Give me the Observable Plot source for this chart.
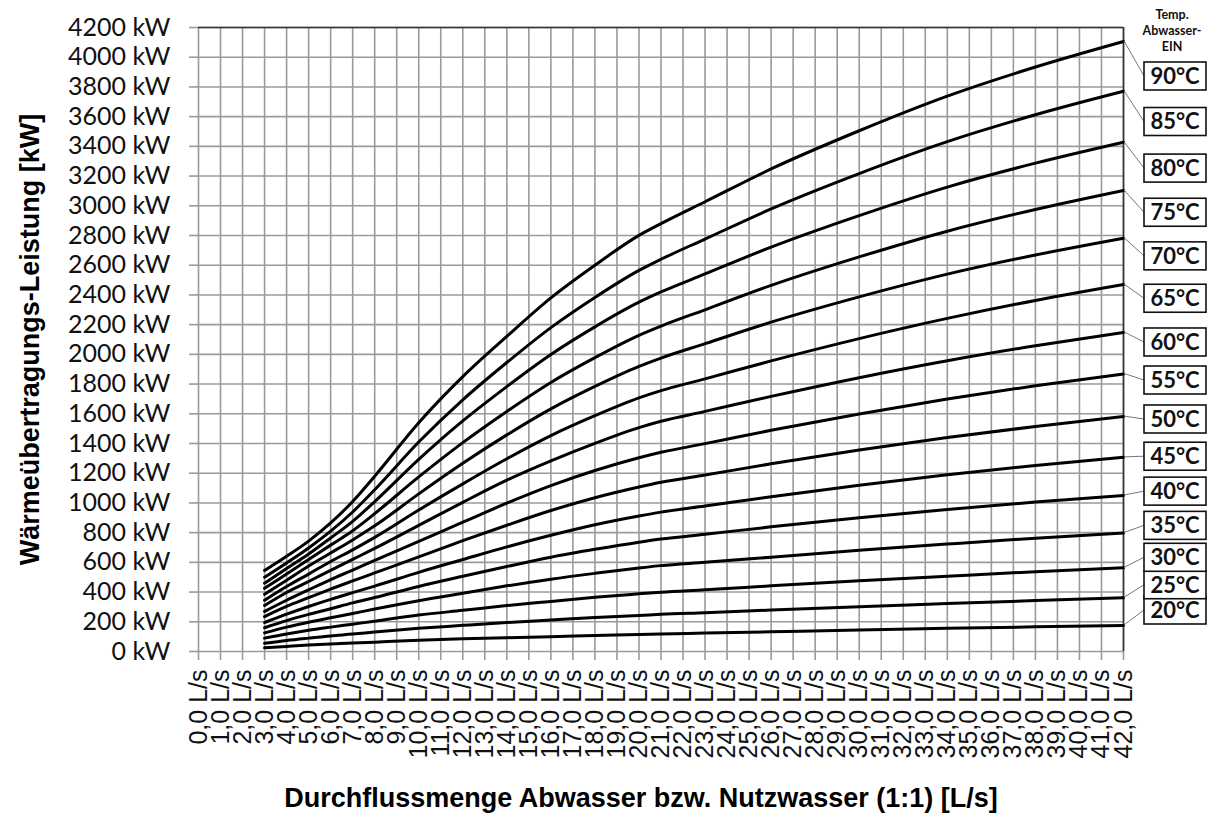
<!DOCTYPE html>
<html><head><meta charset="utf-8">
<script src="https://cdn.jsdelivr.net/npm/d3@7"></script>
<script src="https://cdn.jsdelivr.net/npm/@observablehq/plot@0.6"></script>
<style>html,body{margin:0;padding:0;background:#fff;}</style>
</head><body><div id="chart"></div>
<script>
// Flow rate [L/s] at which each curve value was read
const flows = [3,4,5,6,7,8,10,12,14,16,18,20,21,23,26,30,34,38,42];
// Inlet temperatures (series names)
const temps = ["20°C","25°C","30°C","35°C","40°C","45°C","50°C","55°C","60°C","65°C","70°C","75°C","80°C","85°C","90°C"];
// Heat transfer power [kW] per temperature
const p20 = [25,34,43,50,57,63,75,85,93,100,108,114,118,124,133,145,156,166,175];
const p25 = [55,74,90,105,117,131,156,176,195,212,229,242,250,261,279,302,323,343,361];
const p30 = [90,118,143,164,184,204,245,277,309,337,365,388,399,415,442,476,507,537,563];
const p35 = [125,164,197,227,256,286,342,392,442,487,526,562,578,600,635,681,723,763,798];
const p40 = [160,208,250,288,327,363,438,506,572,635,688,736,757,789,839,901,956,1006,1050];
const p45 = [195,251,303,351,396,440,533,619,704,782,853,912,938,979,1041,1119,1189,1252,1307];
const p50 = [235,303,362,420,475,529,637,746,850,949,1035,1107,1139,1188,1263,1356,1440,1515,1581];
const p55 = [270,345,415,484,548,613,741,870,998,1116,1218,1304,1341,1399,1489,1599,1699,1789,1868];
const p60 = [310,397,471,546,620,694,849,1004,1153,1283,1401,1507,1550,1616,1717,1843,1957,2058,2148];
const p65 = [345,437,521,606,684,768,952,1128,1297,1453,1587,1707,1756,1835,1956,2106,2242,2363,2470];
const p70 = [385,480,576,663,751,846,1061,1267,1458,1633,1784,1919,1975,2072,2217,2387,2540,2669,2782];
const p75 = [425,522,619,716,813,928,1175,1406,1616,1811,1978,2128,2190,2300,2464,2656,2829,2975,3103];
const p80 = [460,558,656,764,876,1009,1293,1552,1783,1999,2185,2351,2420,2541,2722,2934,3126,3287,3428];
const p85 = [500,596,697,810,939,1089,1410,1694,1945,2180,2383,2565,2640,2776,2979,3217,3432,3613,3771];
const p90 = [545,641,743,865,1010,1180,1540,1850,2121,2380,2600,2801,2880,3027,3248,3505,3738,3934,4106];
// Ticks
const xTicks = [0,1,2,3,4,5,6,7,8,9,10,11,12,13,14,15,16,17,18,19,20,21,22,23,24,25,26,27,28,29,30,31,32,33,34,35,36,37,38,39,40,41,42];
const yTicks = [0,200,400,600,800,1000,1200,1400,1600,1800,2000,2200,2400,2600,2800,3000,3200,3400,3600,3800,4000,4200];
const headerLines = ["Temp.","Abwasser-","EIN"];
const xTitle = "Durchflussmenge Abwasser bzw. Nutzwasser (1:1) [L/s]";
const yTitle = "Wärmeübertragungs-Leistung [kW]";

const series = [p20,p25,p30,p35,p40,p45,p50,p55,p60,p65,p70,p75,p80,p85,p90];
const rows = temps.flatMap((t, i) => flows.map((f, j) => ({temp: t, flow: f, kw: series[i][j]})));
const ends = temps.map((t, i) => ({temp: t, flow: flows[flows.length - 1], kw: series[i][series[i].length - 1]}));

const W = 1207, H = 815;
const mT = 27, mB = 164, mL = 198, mR = 84;
const gridColor = "#9a9a9a";

function tempLabels(index, scales) {
  const x = scales.x, y = scales.y;
  const g = d3.create("svg:g");
  const xr = x(42);
  const yEnds = ends.map(d => y(d.kw));
  const yTop = d3.min(yEnds), yBot = d3.max(yEnds);
  const topC = 76, botC = 610;
  const bx = xr + 21, bw = 62, bh = 28;
  // header
  const hx = bx + bw / 2 - 3;
  headerLines.forEach((s, i) => {
    g.append("text").attr("x", hx).attr("y", 15 + i * 16).attr("dy", "0.35em")
      .attr("text-anchor", "middle").attr("font-family", "Lato, sans-serif")
      .attr("font-weight", "bold").attr("font-size", 12.5).attr("fill", "#111").text(s);
  });
  ends.forEach((d, i) => {
    const ye = yEnds[i];
    const cy = topC + (ye - yTop) * (botC - topC) / (yBot - yTop);
    g.append("line").attr("x1", xr + 1).attr("y1", ye).attr("x2", bx).attr("y2", cy)
      .attr("stroke", "#777").attr("stroke-width", 1);
    g.append("rect").attr("x", bx).attr("y", cy - bh / 2).attr("width", bw).attr("height", bh)
      .attr("fill", "#fff").attr("stroke", "#111").attr("stroke-width", 1.6);
    g.append("text").attr("x", bx + bw / 2).attr("y", cy).attr("dy", "0.36em")
      .attr("text-anchor", "middle").attr("font-family", "Lato, sans-serif")
      .attr("font-weight", "bold").attr("font-size", 22).attr("fill", "#111").text(d.temp);
  });
  return g.node();
}

const chart = Plot.plot({
  width: W, height: H,
  marginTop: mT, marginBottom: mB, marginLeft: mL, marginRight: mR,
  x: {domain: [0, 42]},
  y: {domain: [0, 4200]},
  style: {background: "#fff", overflow: "visible"},
  marks: [
    Plot.gridX(xTicks, {stroke: gridColor, strokeOpacity: 1, strokeWidth: 1.6}),
    Plot.gridY(yTicks, {stroke: gridColor, strokeOpacity: 1, strokeWidth: 1.6}),
    Plot.axisX({ticks: xTicks, tickFormat: d => d.toFixed(1).replace(".", ",") + " L/s",
      tickRotate: -90, tickSize: 9, tickPadding: 9, fontSize: 25, fontFamily: "Liberation Sans, Arial, sans-serif",
      stroke: gridColor, strokeWidth: 1.6, fill: "#111", label: null}),
    Plot.axisY({ticks: yTicks, tickFormat: d => `${d} kW`, tickSize: 9, tickPadding: 19,
      fontSize: 25, fontFamily: "Lato, sans-serif", stroke: gridColor, strokeWidth: 1.6, fill: "#111", label: null}),
    Plot.ruleY([4200], {stroke: "#333", strokeWidth: 1.6}),
    Plot.ruleX([42], {stroke: "#333", strokeWidth: 1.6}),
    Plot.line(rows, {x: "flow", y: "kw", z: "temp", stroke: "#000", strokeWidth: 3, curve: "monotone-x"}),
    tempLabels,
    Plot.text([yTitle], {frameAnchor: "left", textAnchor: "middle", lineAnchor: "middle", dx: -168, rotate: -90,
      fontSize: 27, fontWeight: "bold", fontFamily: "Liberation Sans, Arial, sans-serif", fill: "#000"}),
    Plot.text([xTitle], {frameAnchor: "bottom", dx: -20, dy: 155, fontSize: 27, fontWeight: "bold",
      fontFamily: "Liberation Sans, Arial, sans-serif", fill: "#000"})
  ]
});
document.getElementById("chart").appendChild(chart);
</script>
</body></html>
